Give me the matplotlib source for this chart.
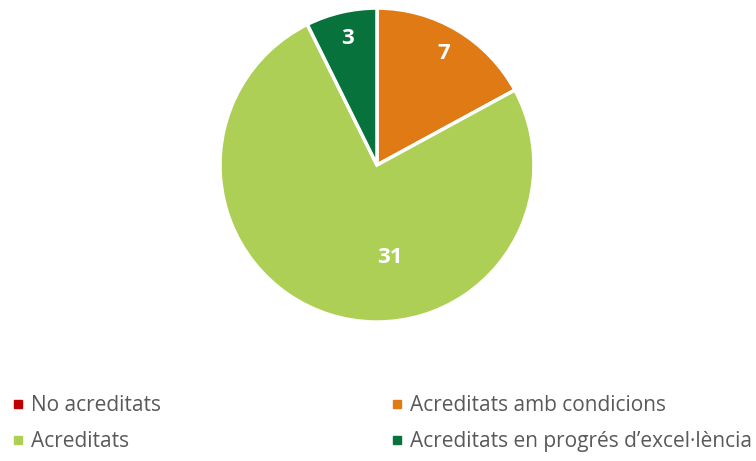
import matplotlib
matplotlib.use("Agg")
import matplotlib.pyplot as plt
from matplotlib.lines import Line2D

categories = ["No acreditats", "Acreditats amb condicions", "Acreditats", "Acreditats en progrés d’excel·lència"]
values = [0, 7, 31, 3]
colors = ["#C00000", "#E07A14", "#ADCF55", "#07723C"]

fig = plt.figure(figsize=(7.56, 4.61), dpi=100)
ax = fig.add_axes([0.291, 0.3015, 0.4153, 0.681])

wedges, texts = ax.pie(values, colors=colors, startangle=90, counterclock=False,
                       radius=1.0, wedgeprops=dict(edgecolor="white", linewidth=2.5),
                       labels=[str(v) if v > 0 else "" for v in values], labeldistance=0.83,
                       textprops=dict(color="white", fontsize=16, fontweight="bold", family="Open Sans"))
for t in texts:
    t.set_ha("center")
    t.set_va("center")
# Excel-style placement for the large slice label
texts[2].set_position((0.08, -0.59))
ax.set_xlim(-1, 1)
ax.set_ylim(-1, 1)
ax.set_aspect("equal")
ax.axis("off")

order = [0, 2, 1, 3]
handles = [Line2D([0], [0], marker="s", linestyle="none", markersize=6,
                  markerfacecolor=colors[i], markeredgecolor=colors[i]) for i in order]
labels = [categories[i] for i in order]
leg = fig.legend(handles, labels, ncol=2, loc="center left",
                 bbox_to_anchor=(0.0165, 0.081), frameon=False,
                 prop=dict(family="Open Sans", size=15), labelcolor="#595959",
                 handlelength=0.55, handletextpad=0.35, columnspacing=11.05,
                 labelspacing=0.75, borderpad=0, borderaxespad=0)
fig.savefig("out.png", dpi=100, facecolor="white")
